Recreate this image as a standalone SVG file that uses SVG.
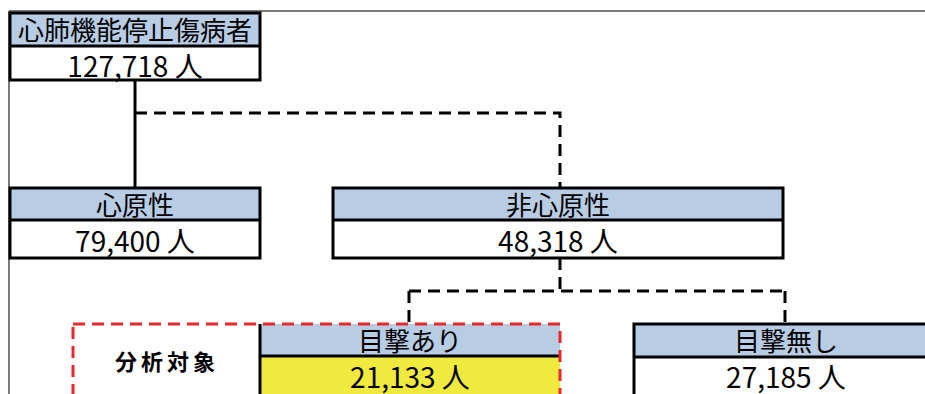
<svg xmlns="http://www.w3.org/2000/svg" width="925" height="394" viewBox="0 0 925 394">
<style>
.hd{fill:#B8CCE4}
.wt{fill:#FFFFFF}
.yl{fill:#F0EA3F}
.bd{fill:none;stroke:#000;stroke-width:3}
.ln{stroke:#000;stroke-width:3;fill:none}
.dl{stroke:#000;stroke-width:3;fill:none;stroke-dasharray:12 7}
.rd{stroke:#E8282A;stroke-width:3;fill:none;stroke-dasharray:12 7}
text{font-family:"Noto Sans CJK JP","Noto Sans",sans-serif;fill:#000;text-anchor:middle}
.h{font-size:26px}
.v{font-size:28px}
.b{font-size:22px;font-weight:bold;letter-spacing:4px}
</style>
<rect width="925" height="394" fill="#fff"/>
<path d="M9,11 H925 M9,11 V394" stroke="#7a7a7a" stroke-width="2" fill="none"/>
<g id="connectors">
<path class="ln" d="M135,80 V188"/>
<path class="dl" d="M135,113 H560 V188"/>
<path class="dl" d="M560,258 V291"/>
<path class="dl" d="M409,291 H785"/>
<path class="dl" d="M409,291 V324"/>
<path class="dl" d="M785,291 V324"/>
</g>
<g id="node-total">
<rect class="hd" x="10" y="13" width="250" height="33"/>
<rect class="wt" x="10" y="46" width="250" height="34"/>
<rect class="bd" x="10" y="13" width="250" height="67"/>
<path class="ln" d="M10,46 H260"/>
<text class="h" x="135" y="40">心肺機能停止傷病者</text>
<text class="v" x="135" y="77">127,718 人</text>
</g>
<g id="node-cardiac">
<rect class="hd" x="10" y="188" width="250" height="32"/>
<rect class="wt" x="10" y="220" width="250" height="38"/>
<rect class="bd" x="10" y="188" width="250" height="70"/>
<path class="ln" d="M10,220 H260"/>
<text class="h" x="135" y="215">心原性</text>
<text class="v" x="135" y="252">79,400 人</text>
</g>
<g id="node-noncardiac">
<rect class="hd" x="333" y="188" width="450" height="32"/>
<rect class="wt" x="333" y="220" width="450" height="38"/>
<rect class="bd" x="333" y="188" width="450" height="70"/>
<path class="ln" d="M333,220 H783"/>
<text class="h" x="558" y="215">非心原性</text>
<text class="v" x="558" y="252">48,318 人</text>
</g>
<g id="node-witnessed">
<rect class="hd" x="260" y="324" width="300" height="32"/>
<rect class="yl" x="260" y="356" width="300" height="50"/>
<path class="ln" d="M260,324 V400 M260,356 H560"/>
<text class="h" x="410" y="351">目撃あり</text>
<text class="v" x="410" y="388">21,133 人</text>
</g>
<g id="node-analysis">
<rect class="rd" x="73" y="324" width="487" height="100"/>
<text class="b" x="167" y="370">分析対象</text>
</g>
<g id="node-unwitnessed">
<rect class="hd" x="634" y="324" width="304" height="33"/>
<rect class="wt" x="634" y="357" width="304" height="50"/>
<rect class="bd" x="634" y="324" width="304" height="90"/>
<path class="ln" d="M634,357 H938"/>
<text class="h" x="786" y="351">目撃無し</text>
<text class="v" x="786" y="388">27,185 人</text>
</g>
</svg>
